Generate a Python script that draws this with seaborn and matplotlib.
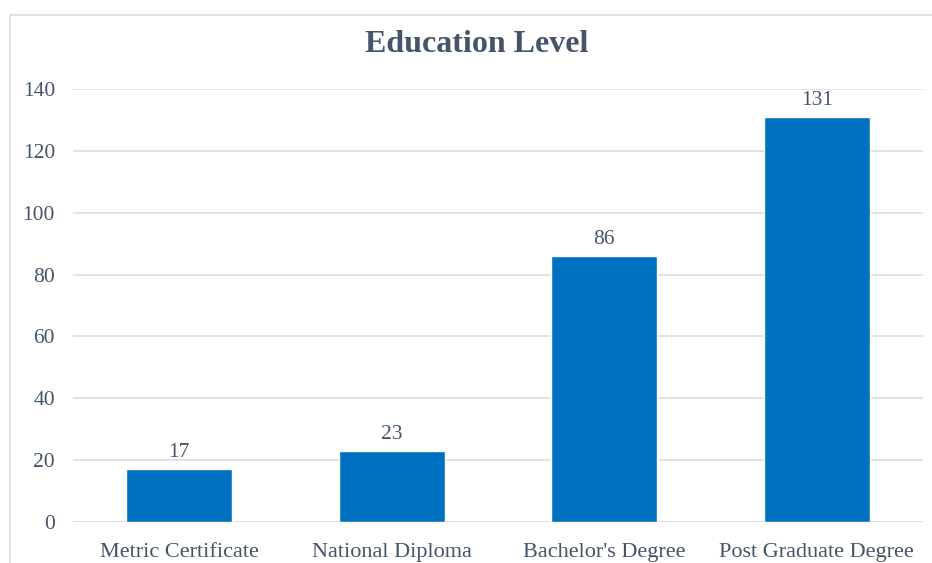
import matplotlib
matplotlib.use("Agg")
import matplotlib.pyplot as plt
import seaborn as sns
import pandas as pd
from matplotlib.patches import Rectangle

categories = ["Metric Certificate", "National Diploma", "Bachelor's Degree", "Post Graduate Degree"]
counts = [17, 23, 86, 131]
y_ticks = [0, 20, 40, 60, 80, 100, 120, 140]

df = pd.DataFrame({"level": categories, "count": counts})

sns.set_theme(style="white")
plt.rcParams["font.family"] = ["Liberation Serif", "DejaVu Serif"]

text_color = "#44546A"
bar_color = "#0070C0"
grid_color = "#D9DDE3"

fig = plt.figure(figsize=(9.32, 5.63), dpi=100)
ax = fig.add_axes([73 / 932, 1 - 522 / 563, (923 - 73) / 932, (522 - 89) / 563])

sns.barplot(data=df, x="level", y="count", color=bar_color, width=0.5,
            saturation=1, ax=ax, zorder=3)

ax.set_ylim(0, 140)
ax.set_yticks(y_ticks)
ax.set_yticklabels([str(v) for v in y_ticks])
ax.yaxis.grid(True, color=grid_color, linewidth=1.2, zorder=0)
ax.set_axisbelow(True)
for s in ax.spines.values():
    s.set_visible(False)
ax.axhline(0, color=grid_color, linewidth=1.2, zorder=1)

ax.set_xlabel("")
ax.set_ylabel("")
ax.tick_params(axis="y", labelsize=15.5, labelcolor=text_color, length=0, pad=13)
ax.tick_params(axis="x", labelsize=16, labelcolor=text_color, length=0, pad=15)

for container in ax.containers:
    ax.bar_label(container, labels=[str(v) for v in counts], padding=5,
                 fontsize=15.5, color=text_color)

fig.text(477 / 932, 1 - 45 / 563, "Education Level", ha="center", va="center",
         fontsize=23, fontweight="bold", color=text_color)

# chart-area border
fig.patches.append(Rectangle((10 / 932, -0.01), 1.0, 1 - 15 / 563 + 0.01,
                             transform=fig.transFigure, fill=False,
                             edgecolor="#D9DDE3", linewidth=1.2))

fig.savefig("out.png", dpi=100)
